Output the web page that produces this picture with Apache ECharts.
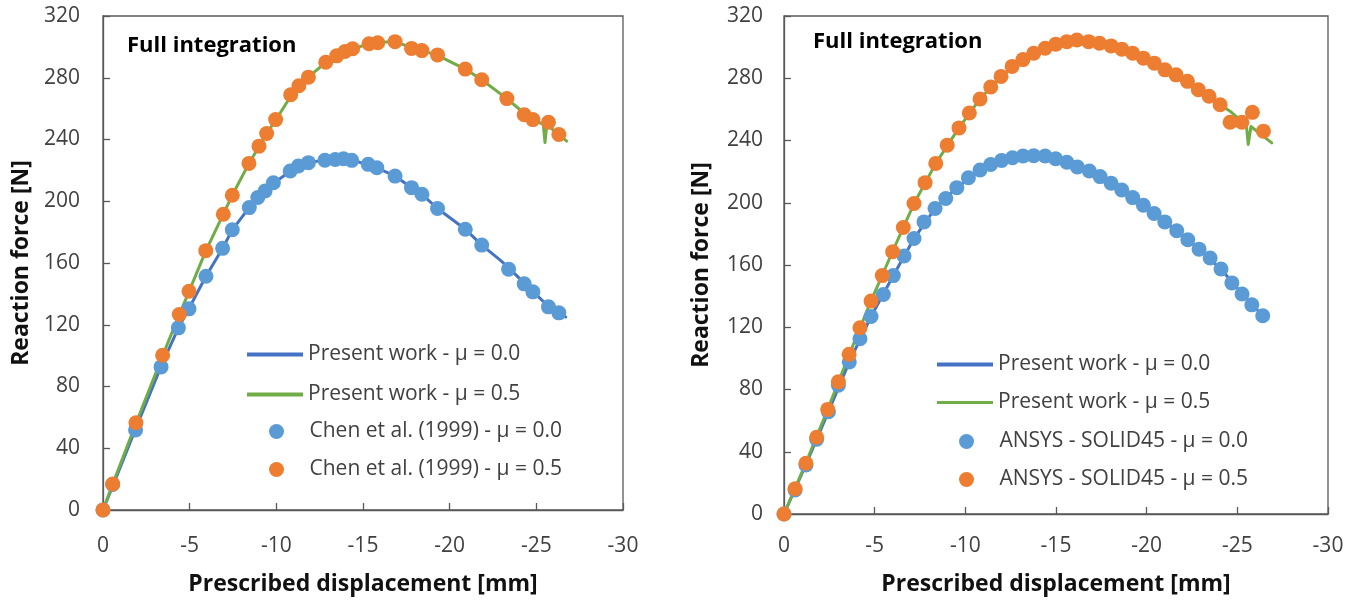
<!DOCTYPE html>
<html>
<head>
<meta charset="utf-8">
<script src="https://cdn.jsdelivr.net/npm/echarts@6/dist/echarts.min.js"></script>
<style>
  html, body { margin: 0; padding: 0; background: #fff; }
  #chart { width: 1359px; height: 601px; }
</style>
</head>
<body>
<div id="chart"></div>
<script>
// Displacement [mm] / reaction force [N] pairs, written as [x, y]

// Left panel: present work vs. Chen et al. (1999)
const leftPresentMu00 = [
  [0,0],[-0.6,16.5],[-1.88,52.5],[-3.35,93],[-4.35,118],[-4.96,130.5],[-5.94,151.4],
  [-6.9,169.5],[-7.46,181.5],[-8.44,196],[-8.93,202.4],[-9.35,206.6],[-9.83,211.5],
  [-10.8,219.5],[-11.27,222.5],[-11.85,225],[-12.8,226.8],[-13.4,227.2],[-13.87,227.4],
  [-14.35,226.5],[-15.3,223.9],[-15.8,221.7],[-16.85,216.3],[-17.8,208.8],[-18.4,204.5],
  [-19.3,195.3],[-20.9,181.9],[-21.85,171.6],[-22.9,162],[-23.4,157],[-24.3,147],
  [-24.8,141.5],[-25.7,132],[-26.3,127.5],[-26.7,125]
];
const leftPresentMu05 = [
  [0,0],[-0.56,16.8],[-1.9,56],[-3.44,100],[-4.4,126.5],[-4.96,141.5],[-5.92,167.5],
  [-6.94,191.6],[-7.46,203.9],[-8.42,224.5],[-9.0,235.5],[-9.44,243.9],[-9.96,252.5],
  [-10.83,268],[-11.3,274.8],[-11.85,280.4],[-12.85,290],[-13.48,294.2],[-14.0,297],
  [-14.45,299],[-15.4,302],[-15.9,303],[-16.85,303.4],[-17.8,299.5],[-18.4,297.6],
  [-19.3,294.5],[-20.9,285.6],[-21.85,278.7],[-23.3,266.5],[-24.3,257],[-24.8,253],
  [-25.4,249.8],[-25.5,238],[-25.6,249.5],[-26.0,246],[-26.75,239]
];
const chenMu00 = [
  [0,0],[-0.56,16.5],[-1.88,51.8],[-3.35,92.7],[-4.35,118],[-4.96,130.3],[-5.94,151.4],
  [-6.9,169.5],[-7.46,181.5],[-8.44,195.9],[-8.93,202.4],[-9.35,206.6],[-9.83,212],
  [-10.8,219.6],[-11.27,222.8],[-11.85,225],[-12.8,226.6],[-13.4,227],[-13.87,227.5],
  [-14.35,226.5],[-15.3,223.9],[-15.8,221.7],[-16.85,216.3],[-17.8,208.8],[-18.4,204.5],
  [-19.3,195.3],[-20.9,181.9],[-21.85,171.6],[-23.4,156],[-24.3,146.5],[-24.8,141.3],
  [-25.7,131.6],[-26.3,127.7]
];
const chenMu05 = [
  [0,0],[-0.56,16.8],[-1.9,56.5],[-3.44,100.2],[-4.4,126.6],[-4.96,141.7],[-5.93,168],
  [-6.94,191.6],[-7.46,203.9],[-8.42,224.5],[-9.0,235.7],[-9.44,243.9],[-9.96,252.9],
  [-10.83,269],[-11.3,274.8],[-11.85,280.4],[-12.85,290],[-13.48,294.2],[-13.96,297],
  [-14.4,298.8],[-15.35,302],[-15.85,302.7],[-16.85,303.4],[-17.8,299],[-18.4,297.6],
  [-19.3,294.8],[-20.9,285.6],[-21.85,278.7],[-23.3,266.5],[-24.3,256],[-24.8,252.9],
  [-25.7,251.2],[-26.3,243.2]
];

// Right panel: present work vs. ANSYS SOLID45
const rightPresentMu00 = [
  [0,0],[-1.2,31.5],[-2.45,65.7],[-3.6,97.7],[-4.8,126.9],[-6.03,153.2],[-7.17,177],
  [-8.33,196.3],[-9.53,209.7],[-10.81,221],[-12.0,227.2],[-13.18,230],[-13.77,230.3],
  [-14.4,230],[-15.6,226],[-16.84,220.4],[-18.04,212.5],[-19.23,203.3],[-20.41,193.1],
  [-21.66,182],[-22.89,170.2],[-24.1,157.4],[-25.26,141.4],[-26.4,127.4]
];
const rightPresentMu05 = [
  [0,0],[-1.2,32.6],[-2.4,67],[-3.6,102.5],[-4.8,137],[-6.0,169],[-7.17,199.5],
  [-8.37,225.3],[-9.65,248.1],[-10.81,266.7],[-11.97,281.2],[-13.18,292.2],[-14.4,299.3],
  [-15.6,303.5],[-16.2,304.4],[-16.8,303.7],[-18.04,300.8],[-19.23,296.1],[-20.42,289.7],
  [-21.62,282.2],[-22.85,272.6],[-24.05,263],[-24.6,258.8],[-25.5,249.6],[-25.6,237.5],
  [-25.75,249],[-26.9,238.5]
];
const ansysMu00 = [
  [0,0],[-0.61,15.5],[-1.21,31.5],[-1.8,48],[-2.45,65.7],[-3.0,82.8],[-3.6,97.7],
  [-4.19,112.6],[-4.8,126.9],[-5.48,141],[-6.03,153.2],[-6.62,165.8],[-7.17,177],
  [-7.72,187.7],[-8.33,196.3],[-8.92,202.7],[-9.53,209.7],[-10.17,216.1],[-10.81,221],
  [-11.4,224.6],[-12.0,227.2],[-12.6,228.9],[-13.18,230],[-13.77,230.2],[-14.4,230],
  [-14.98,228.3],[-15.6,226],[-16.18,223],[-16.84,220.4],[-17.43,216.8],[-18.04,212.5],
  [-18.63,208.2],[-19.23,203.3],[-19.82,198.4],[-20.41,193.1],[-21.0,187.7],[-21.66,182],
  [-22.27,176.2],[-22.89,170.2],[-23.5,164.5],[-24.1,157.4],[-24.7,148.5],[-25.26,141.4],
  [-25.8,134.4],[-26.4,127.4]
];
const ansysMu05 = [
  [0,0],[-0.61,16.2],[-1.21,32.6],[-1.8,49.3],[-2.41,67.2],[-3.0,84.9],[-3.59,102.6],
  [-4.19,119.7],[-4.8,136.8],[-5.42,153.2],[-5.99,168.5],[-6.58,184.1],[-7.17,199.5],
  [-7.78,212.9],[-8.37,225.3],[-9.0,237],[-9.65,248.1],[-10.22,257.7],[-10.81,266.7],
  [-11.4,274.4],[-11.97,281.2],[-12.58,287.6],[-13.18,292],[-13.77,296.1],[-14.4,299.3],
  [-14.99,301.9],[-15.6,303.5],[-16.15,304.6],[-16.8,303.5],[-17.4,302.5],[-18.04,300.8],
  [-18.63,298.7],[-19.23,296.1],[-19.82,292.9],[-20.42,289.7],[-21.01,285.4],[-21.62,282.2],
  [-22.25,278],[-22.85,272.6],[-23.44,268.4],[-24.05,263],[-24.6,251.7],[-25.25,251.7],
  [-25.83,258.1],[-26.44,246]
];

// Series names and annotation text
const namePresent00 = 'Present work - μ = 0.0';
const namePresent05 = 'Present work - μ = 0.5';
const leftRefNames = ['Chen et al. (1999) - μ = 0.0', 'Chen et al. (1999) - μ = 0.5'];
const rightRefNames = ['ANSYS - SOLID45 - μ = 0.0', 'ANSYS - SOLID45 - μ = 0.5'];
const panelLabel = 'Full integration';
const xTitle = 'Prescribed displacement [mm]';
const yTitle = 'Reaction force [N]';

const FONT = '"Open Sans", "Noto Sans", sans-serif';
const AXIS_COLOR = '#595959';
const TEXT_COLOR = '#404040';
const BLUE_LINE = '#4472C4';
const GREEN_LINE = '#70AD47';
const BLUE_DOT = '#5B9BD5';
const ORANGE_DOT = '#ED7D31';

const grids = [
  { left: 103, top: 16, width: 520, height: 496 },
  { left: 784, top: 16, width: 544, height: 500 }
];

const titleFont = { fontFamily: FONT, fontSize: 23, fontWeight: 'bold', color: '#111' };
const panelFont = { fontFamily: FONT, fontSize: 22, fontWeight: 'bold', color: '#000' };

function xAxis(gridIndex, nameGap, labelMargin) {
  return {
    gridIndex, type: 'value', min: -30, max: 0, interval: 5, inverse: true,
    name: xTitle, nameLocation: 'middle', nameGap,
    nameTextStyle: titleFont,
    axisLine: { show: true, onZero: false, lineStyle: { color: AXIS_COLOR, width: 1.3 } },
    axisTick: { show: true, inside: true, length: 7, lineStyle: { color: AXIS_COLOR, width: 1.3 } },
    axisLabel: { fontFamily: FONT, fontSize: 21, color: TEXT_COLOR, margin: labelMargin },
    splitLine: { show: false }
  };
}
function yAxis(gridIndex, nameGap, labelMargin) {
  return {
    gridIndex, type: 'value', min: 0, max: 320, interval: 40,
    name: yTitle, nameLocation: 'middle', nameGap, nameRotate: 90,
    nameTextStyle: titleFont,
    axisLine: { show: true, lineStyle: { color: AXIS_COLOR, width: 1.3 } },
    axisTick: { show: true, inside: true, length: 7, lineStyle: { color: AXIS_COLOR, width: 1.3 } },
    axisLabel: { fontFamily: FONT, fontSize: 21, color: TEXT_COLOR, margin: labelMargin },
    splitLine: { show: false }
  };
}

function lineSeries(name, data, idx, color, width) {
  return {
    name, type: 'line', data, xAxisIndex: idx, yAxisIndex: idx,
    showSymbol: false, symbol: 'none', smooth: false, z: 2,
    color, lineStyle: { color, width, cap: 'round', join: 'round' }
  };
}
function dotSeries(name, data, idx, color) {
  return {
    name, type: 'scatter', data, xAxisIndex: idx, yAxisIndex: idx,
    symbol: 'circle', symbolSize: 15, z: 3,
    color, itemStyle: { color, opacity: 1 }
  };
}

// One legend row per entry so each row keeps its own icon size
function legendRow(name, left, top, icon, h) {
  return {
    data: [{ name, icon }], left, top, orient: 'horizontal',
    itemWidth: 56, itemHeight: h, itemGap: 0, padding: 0,
    selectedMode: false,
    textStyle: { fontFamily: FONT, fontSize: 21, color: TEXT_COLOR, padding: 0 }
  };
}

const option = {
  animation: false,
  backgroundColor: '#fff',
  grid: grids.map(g => Object.assign({ show: true, borderColor: AXIS_COLOR, borderWidth: 1.3, backgroundColor: 'transparent' }, g)),
  xAxis: [xAxis(0, 63, 26), xAxis(1, 59, 22)],
  yAxis: [yAxis(0, 70, 23), yAxis(1, 71, 21)],
  title: [
    { text: panelLabel, left: 127, top: 35, padding: 0, textStyle: panelFont },
    { text: panelLabel, left: 813, top: 31, padding: 0, textStyle: panelFont }
  ],
  legend: [
    legendRow(namePresent00, 247, 344, 'rect', 4),
    legendRow(namePresent05, 247, 384, 'rect', 4),
    legendRow(leftRefNames[0], 269, 421, 'circle', 15),
    legendRow(leftRefNames[1], 269, 459, 'circle', 15),
    legendRow(namePresent00, 937, 354, 'rect', 4),
    legendRow(namePresent05, 937, 392, 'rect', 3),
    legendRow(rightRefNames[0], 959, 431, 'circle', 15),
    legendRow(rightRefNames[1], 959, 469, 'circle', 15)
  ],
  series: [
    lineSeries(namePresent00, leftPresentMu00, 0, BLUE_LINE, 3),
    lineSeries(namePresent05, leftPresentMu05, 0, GREEN_LINE, 3),
    dotSeries(leftRefNames[0], chenMu00, 0, BLUE_DOT),
    dotSeries(leftRefNames[1], chenMu05, 0, ORANGE_DOT),
    lineSeries(namePresent00, rightPresentMu00, 1, BLUE_LINE, 3),
    lineSeries(namePresent05, rightPresentMu05, 1, GREEN_LINE, 3),
    dotSeries(rightRefNames[0], ansysMu00, 1, BLUE_DOT),
    dotSeries(rightRefNames[1], ansysMu05, 1, ORANGE_DOT)
  ]
};

const chart = echarts.init(document.getElementById('chart'), null, { renderer: 'canvas' });
chart.setOption(option);
</script>
</body>
</html>
